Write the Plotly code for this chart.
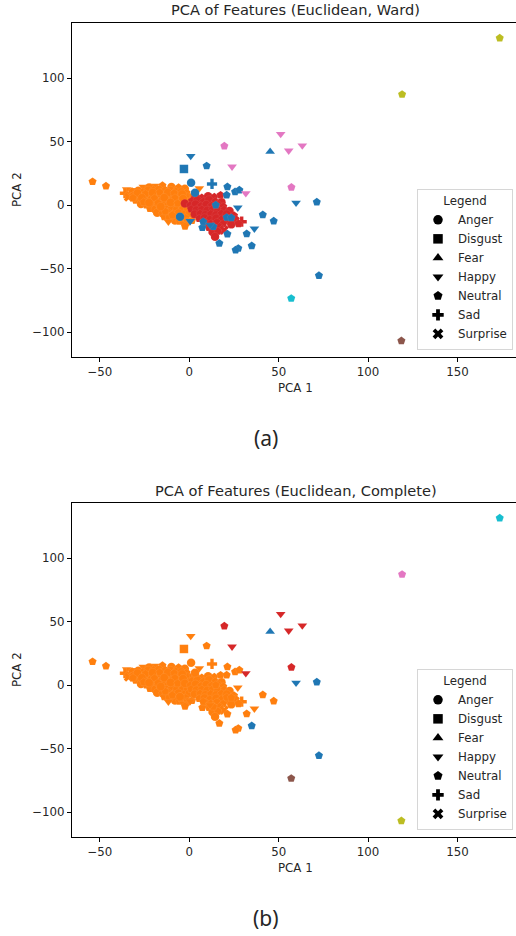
import plotly.graph_objects as go

# ---------------- data ----------------
EMOTIONS = ["Anger", "Disgust", "Fear", "Happy", "Neutral", "Sad", "Surprise"]
EMO_CODE = {"A": "Anger", "D": "Disgust", "F": "Fear", "H": "Happy",
            "N": "Neutral", "S": "Sad", "U": "Surprise"}

# main dense group: Ward cluster "orange", Complete cluster "orange"
orange_x = [
    -54.1, -46.6, -35.0, -33.2, -36.0, -30.5, -25.7, -19.2, -22.5, -15.0, -10.0, -6.0, -2.5, 5.6,
    -32.0, -28.5, -26.0, -23.0, -20.0, -17.0, -13.5, -10.5, -7.5, -4.5, -1.5,
    -34.0, -31.0, -28.0, -25.0, -22.0, -19.0, -16.0, -13.0, -10.0, -7.0, -4.0, -1.0, 2.0,
    -30.0, -27.0, -24.0, -21.0, -18.0, -15.0, -12.0, -9.0, -6.0, -3.0, 0.0,
    -27.0, -24.0, -21.0, -18.0, -15.0, -12.0, -9.0, -6.0, -3.0, -0.5,
    -22.0, -19.0, -16.0, -13.0, -10.0, -7.0, -4.0, -1.0,
    -18.0, -15.0, -12.0, -9.0, -6.0, -3.0, 0.0,
    -14.0, -11.0, -8.0, -5.0, -2.0,
    -8.0, -5.5, -1.0, 1.5, -11.7, -3.4, -2.4,
    -29.0, -24.5, -20.5, -16.5, -12.0, -8.5, -4.0, -31.5, -26.5, -19.5, -14.0, -8.0,
    -3.5, -25.5, -22.5, -17.5, -10.5, -6.5, -13.5, -16.0, -9.5,
]
orange_y = [
    18.6, 15.2, 12.5, 8.8, 9.5, 12.0, 14.6, 15.2, 14.0, 15.5, 14.5, 14.0, 13.0, 13.4,
    10.8, 11.5, 10.5, 11.8, 12.0, 12.3, 12.0, 11.6, 11.0, 10.5, 9.8,
    6.5, 7.5, 8.0, 7.2, 8.3, 7.6, 8.5, 7.8, 8.2, 7.5, 7.0, 6.5, 7.5,
    4.0, 4.5, 3.8, 4.6, 3.5, 4.2, 3.6, 4.3, 3.4, 4.0, 3.0,
    1.0, 0.2, 0.8, -0.2, 0.6, 0.0, 0.7, -0.3, 0.4, -0.5,
    -2.5, -3.2, -2.6, -3.4, -2.8, -3.5, -3.0, -3.6,
    -5.8, -6.5, -6.0, -6.8, -6.2, -7.0, -6.4,
    -9.0, -9.5, -9.8, -9.2, -10.0,
    -12.0, -12.5, -13.0, -12.0, -12.9, -14.2, -16.5,
    9.5, 9.0, 10.0, 10.2, 10.0, 9.6, 8.8, 5.8, 5.9, 5.5, 6.0, 5.7,
    5.2, 2.5, 2.0, 1.8, 2.2, 1.5, -4.8, -1.0, -7.8,
]
orange_emo = list("NNHHSHHHANANAH" "NANANANANAN" "UANANANANANAN" "NANANANANAN"
                  "ANANANANAN" "NANANANA" "ANANANA" "NANAN" "ANANHHN"
                  "ANANANANANAN" "ANANANNAN")

# Ward cluster "red", Complete cluster "orange"
red_x = [
    3.5, 7.0, 10.5, 14.0, 17.5,
    1.5, 4.5, 8.0, 11.0, 14.5, 18.0,
    -2.5, 0.5, 3.5, 6.5, 9.5, 12.5, 16.0, 19.0,
    1.0, 4.0, 7.0, 10.0, 13.0, 16.0, 19.5, 22.5,
    3.0, 6.0, 9.0, 12.0, 15.0, 18.0, 21.0, 25.0,
    5.5, 8.5, 11.5, 15.0, 18.0, 22.0, 26.0, 29.3,
    9.0, 12.0, 15.5, 19.0, 23.5, 27.5,
    11.0, 14.0, 17.0, 19.5,
    13.0, 16.0, 14.4,
]
red_y = [
    7.0, 6.0, 7.2, 6.5, 8.0,
    3.5, 4.0, 3.0, 4.2, 3.0, 2.5,
    1.5, 0.0, 0.8, -0.5, 0.5, -0.3, 0.2, -1.0,
    -3.0, -3.8, -3.2, -4.0, -3.0, -4.2, -3.5, -4.5,
    -7.0, -6.5, -7.5, -6.8, -7.6, -6.5, -7.0, -8.0,
    -10.5, -10.0, -11.0, -10.2, -11.0, -11.5, -11.0, -12.9,
    -14.0, -14.5, -13.8, -14.5, -15.0, -14.5,
    -17.5, -18.0, -17.0, -19.5,
    -21.0, -20.5, -24.7,
]
red_emo = list("ANANN" "NANANA" "ANANANAN" "NANANANA" "ANANANAN" "NANANANS"
               "ANANAN" "NANU" "ANA")

# Ward cluster "blue", Complete cluster "orange"
blue_x = [0.8, -3.0, 9.7, 1.0, 12.7, 21.3, 20.9, 25.6, 28.0, 3.2, 14.8, 27.1,
          41.1, 47.2, 20.9, 23.5, 36.4, 32.1, 21.3, 16.8, 27.4, 25.9,
          -5.2, 0.5, 7.3, 13.4, 7.8, 11.6]
blue_y = [38.8, 28.6, 31.0, 17.8, 16.8, 14.6, 8.1, 10.7, 12.0, 9.9, 0.2, -1.9,
          -7.4, -12.4, -9.5, -9.8, -18.4, -22.4, -22.6, -29.9, -33.9, -35.2,
          -9.0, -12.5, -17.6, -16.8, -12.9, -15.5]
blue_emo = list("HDNASNNNNANH" "NNNNHNNNNN" "AHNNNH")

# remaining points with their own clusters in each method
other_x = [45.2, 59.7, 71.3, 34.9, 72.5,
           51.1, 19.6, 55.6, 63.2, 23.9, 57.1, 31.6,
           173.6, 119.0, 57.0, 118.6]
other_y = [42.2, 2.0, 2.6, -31.8, -55.3,
           56.1, 46.7, 43.0, 47.0, 30.4, 14.2, 9.4,
           131.7, 87.3, -73.3, -106.7]
other_emo = list("FHNNN" "HNHHHNH" "NNNN")
other_ward = ["blue"] * 5 + ["pink"] * 7 + ["olive", "olive", "cyan", "brown"]
other_complete = ["blue"] * 5 + ["red"] * 7 + ["cyan", "pink", "brown", "olive"]

X_TICKS = [-50, 0, 50, 100, 150]
Y_TICKS = [-100, -50, 0, 50, 100]

# ---------------- assemble ----------------
pca1 = orange_x + red_x + blue_x + other_x
pca2 = orange_y + red_y + blue_y + other_y
emo = [EMO_CODE[c] for c in orange_emo + red_emo + blue_emo + other_emo]
ward = (["orange"] * len(orange_x) + ["red"] * len(red_x)
        + ["blue"] * len(blue_x) + other_ward)
complete = (["orange"] * len(orange_x) + ["orange"] * len(red_x)
            + ["orange"] * len(blue_x) + other_complete)

PALETTE = {"blue": "#1f77b4", "orange": "#ff7f0e", "green": "#2ca02c",
           "red": "#d62728", "purple": "#9467bd", "brown": "#8c564b",
           "pink": "#e377c2", "gray": "#7f7f7f", "olive": "#bcbd22",
           "cyan": "#17becf"}
SYMBOL = {"Anger": "circle", "Disgust": "square", "Fear": "triangle-up",
          "Happy": "triangle-down", "Neutral": "pentagon", "Sad": "cross",
          "Surprise": "x"}

FONT = "DejaVu Sans"
TXT = "#262626"
W, H = 516, 936

fig = go.Figure()

for labels, xa, ya in [(ward, "x", "y"), (complete, "x2", "y2")]:
    fig.add_trace(go.Scatter(
        x=pca1, y=pca2, mode="markers", xaxis=xa, yaxis=ya, showlegend=False,
        marker=dict(size=8.5, color=[PALETTE[c] for c in labels],
                    symbol=[SYMBOL[e] for e in emo],
                    line=dict(color="rgba(255,255,255,0.35)", width=0.2)),
        hoverinfo="skip"))

for leg in ["legend", "legend2"]:
    for e in EMOTIONS:
        fig.add_trace(go.Scatter(
            x=[None], y=[None], mode="markers", name=e, legend=leg,
            marker=dict(size=9.5, color="black", symbol=SYMBOL[e]),
            xaxis="x" if leg == "legend" else "x2",
            yaxis="y" if leg == "legend" else "y2"))

def px_to_paper_y(py):
    return 1 - py / H

x_dom = [72 / W, 1.0]
axis_common = dict(showgrid=False, zeroline=False, showline=True,
                   linecolor="black", linewidth=1, ticks="outside",
                   ticklen=4, tickcolor="black",
                   tickfont=dict(family=FONT, size=11.8, color=TXT))

fig.update_layout(
    width=W, height=H, margin=dict(l=0, r=0, t=0, b=0),
    paper_bgcolor="white", plot_bgcolor="white",
    font=dict(family=FONT, color=TXT),
    xaxis=dict(domain=x_dom, range=[-65.6, 182.7], tickvals=X_TICKS,
               mirror=True, anchor="y", **axis_common),
    yaxis=dict(domain=[px_to_paper_y(357), px_to_paper_y(23)],
               range=[-119.4, 143.5], tickvals=Y_TICKS, anchor="x",
               **axis_common),
    xaxis2=dict(domain=x_dom, range=[-65.6, 182.7], tickvals=X_TICKS,
                mirror=True, anchor="y2", **axis_common),
    yaxis2=dict(domain=[px_to_paper_y(837), px_to_paper_y(503)],
                range=[-119.4, 143.5], tickvals=Y_TICKS, anchor="x2",
                **axis_common),
)

leg_style = dict(xref="paper", yref="paper", xanchor="right", yanchor="bottom",
                 bgcolor="rgba(255,255,255,0.85)", bordercolor="#d6d6d6",
                 borderwidth=1, font=dict(family=FONT, size=11.8, color=TXT),
                 title=dict(text="Legend", side="top center",
                            font=dict(family=FONT, size=11.8, color=TXT)),
                 itemsizing="trace", tracegroupgap=0)
fig.update_layout(
    legend=dict(x=513 / W, y=px_to_paper_y(350), **leg_style),
    legend2=dict(x=513 / W, y=px_to_paper_y(830), **leg_style),
)

annots = [
    ("PCA of Features (Euclidean, Ward)", 295.5, 10, 14.6, 0, FONT),
    ("PCA of Features (Euclidean, Complete)", 295.5, 490, 14.6, 0, FONT),
    ("PCA 1", 295.5, 388, 11.8, 0, FONT),
    ("PCA 1", 295.5, 868, 11.8, 0, FONT),
    ("PCA 2", 17, 190, 11.8, -90, FONT),
    ("PCA 2", 17, 670, 11.8, -90, FONT),
    ("(a)", 266, 438, 21, 0, "Noto Sans"),
    ("(b)", 266, 918, 21, 0, "Noto Sans"),
]
for text, ax, ay, size, angle, fam in annots:
    fig.add_annotation(text=text, x=ax / W, y=px_to_paper_y(ay),
                       xref="paper", yref="paper", showarrow=False,
                       xanchor="center", yanchor="middle", textangle=angle,
                       font=dict(family=fam, size=size, color=TXT))

fig.write_html("out.html", config={"displayModeBar": False},
               post_script="document.body.style.margin='0';"
                           "document.body.style.overflow='hidden';")
